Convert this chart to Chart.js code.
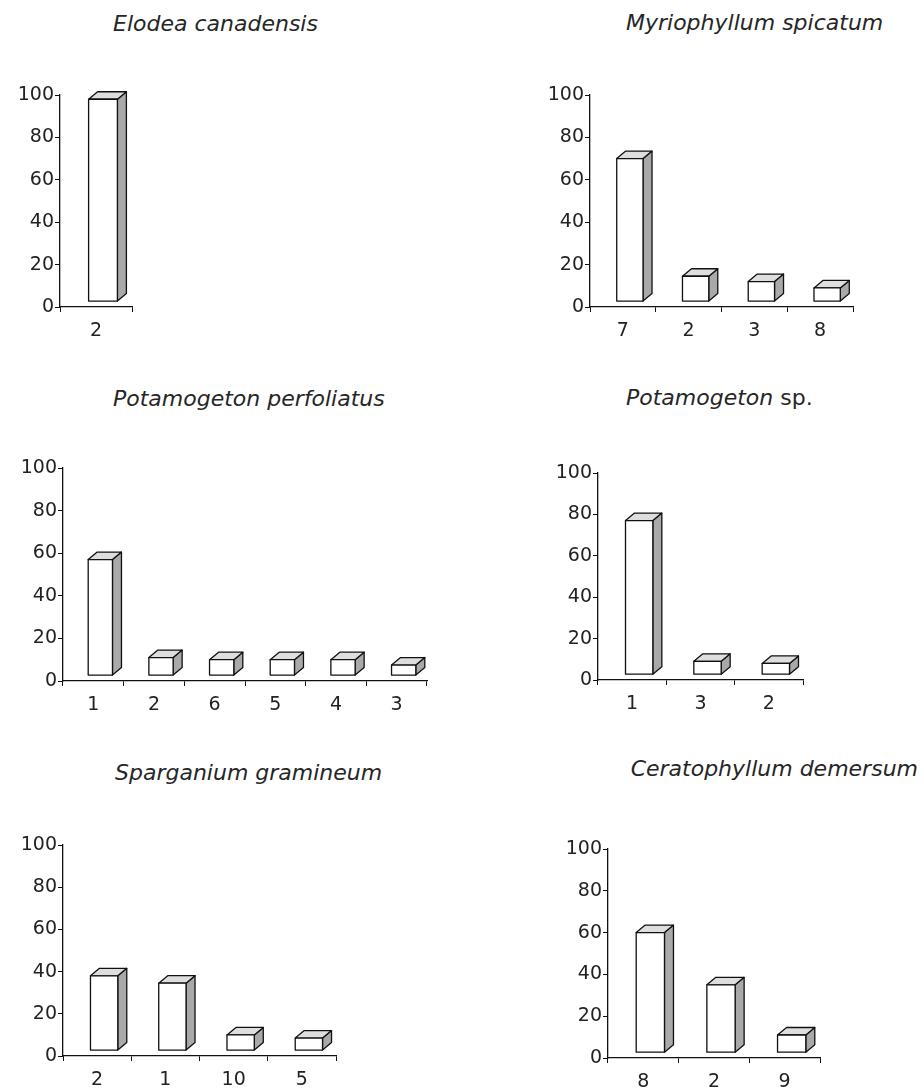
<!DOCTYPE html>
<html>
<head>
<meta charset="utf-8">
<script src="https://cdn.jsdelivr.net/npm/chart.js@4.4.1/dist/chart.umd.min.js"></script>
<style>
  body { margin: 0; background: #fff; width: 924px; height: 1092px; position: relative; overflow: hidden; }
  canvas { position: absolute; }
  .title { position: absolute; font: italic 22px "DejaVu Sans", sans-serif; color: #262626; white-space: nowrap; line-height: 22px; }
  .title span { font-style: normal; }
</style>
</head>
<body>
<div class="title" style="left:113px;top:13px">Elodea canadensis</div>
<div class="title" style="left:626px;top:12px">Myriophyllum spicatum</div>
<div class="title" style="left:113px;top:388px">Potamogeton perfoliatus</div>
<div class="title" style="left:626px;top:387px">Potamogeton <span>sp.</span></div>
<div class="title" style="left:115px;top:762px">Sparganium gramineum</div>
<div class="title" style="right:6px;top:758px">Ceratophyllum demersum</div>

<canvas id="c1"></canvas>
<canvas id="c2"></canvas>
<canvas id="c3"></canvas>
<canvas id="c4"></canvas>
<canvas id="c5"></canvas>
<canvas id="c6"></canvas>

<script>
// data (percent)
const yTicks = [0, 20, 40, 60, 80, 100];

const elodeaLabels = ["2"];
const elodeaValues = [98];

const myriophyllumLabels = ["7", "2", "3", "8"];
const myriophyllumValues = [70, 14.5, 12, 9];

const perfoliatusLabels = ["1", "2", "6", "5", "4", "3"];
const perfoliatusValues = [57, 11, 10, 10, 10, 7.5];

const potamogetonLabels = ["1", "3", "2"];
const potamogetonValues = [77, 9, 8];

const sparganiumLabels = ["2", "1", "10", "5"];
const sparganiumValues = [38, 34.5, 10, 8.5];

const ceratophyllumLabels = ["8", "2", "9"];
const ceratophyllumValues = [60, 35, 11];

// panel placement: y axis x, pixel of 100, pixel of 0, right end of x axis
const panels = [
  { id: "c1", labels: elodeaLabels, values: elodeaValues, axisX: 60, top: 95, bottom: 307, right: 132 },
  { id: "c2", labels: myriophyllumLabels, values: myriophyllumValues, axisX: 590, top: 95, bottom: 307, right: 853 },
  { id: "c3", labels: perfoliatusLabels, values: perfoliatusValues, axisX: 63, top: 468, bottom: 681, right: 427 },
  { id: "c4", labels: potamogetonLabels, values: potamogetonValues, axisX: 598, top: 473, bottom: 680, right: 803 },
  { id: "c5", labels: sparganiumLabels, values: sparganiumValues, axisX: 63, top: 845, bottom: 1056, right: 336 },
  { id: "c6", labels: ceratophyllumLabels, values: ceratophyllumValues, axisX: 608, top: 849, bottom: 1058, right: 820 }
];

const YW = 60, PT = 20, XH = 45, PR = 20;
const DX = 9, DY = -7.5, SHIFT = 7;

// excel-style 3d columns drawn on top of the (invisible) bar elements
const box3d = {
  id: "box3d",
  afterDatasetsDraw(chart) {
    const ctx = chart.ctx;
    const meta = chart.getDatasetMeta(0);
    ctx.save();
    ctx.lineWidth = 1.3;
    ctx.strokeStyle = "#111";
    ctx.lineJoin = "round";
    for (const el of meta.data) {
      const l = el.x - el.width / 2 + SHIFT;
      const r = l + el.width;
      const t = el.y;
      const b = el.base;
      // side
      ctx.beginPath();
      ctx.moveTo(r, t); ctx.lineTo(r + DX, t + DY); ctx.lineTo(r + DX, b + DY); ctx.lineTo(r, b); ctx.closePath();
      ctx.fillStyle = "#a9a9a9"; ctx.fill(); ctx.stroke();
      // top
      ctx.beginPath();
      ctx.moveTo(l, t); ctx.lineTo(l + DX, t + DY); ctx.lineTo(r + DX, t + DY); ctx.lineTo(r, t); ctx.closePath();
      ctx.fillStyle = "#dedede"; ctx.fill(); ctx.stroke();
      // front
      ctx.beginPath();
      ctx.rect(l, t, r - l, b - t);
      ctx.fillStyle = "#fff"; ctx.fill(); ctx.stroke();
    }
    ctx.restore();
  }
};

for (const p of panels) {
  const canvas = document.getElementById(p.id);
  const w = (p.right - p.axisX) + YW + PR;
  const h = (p.bottom - p.top) + PT + XH;
  canvas.width = w; canvas.height = h;
  canvas.style.left = (p.axisX - YW) + "px";
  canvas.style.top = (p.top - PT) + "px";

  new Chart(canvas, {
    type: "bar",
    data: {
      labels: p.labels,
      datasets: [{ data: p.values, base: 2.8, backgroundColor: "rgba(0,0,0,0)", borderWidth: 0, barPercentage: 0.4, categoryPercentage: 1 }]
    },
    options: {
      responsive: false,
      animation: false,
      devicePixelRatio: 1,
      layout: { padding: { top: PT, right: PR, left: 0, bottom: 0 } },
      plugins: { legend: { display: false }, tooltip: { enabled: false } },
      scales: {
        x: {
          afterFit: (s) => { s.height = XH; },
          grid: { drawOnChartArea: false, drawTicks: true, tickLength: 5, color: "#111", offset: true },
          border: { color: "#111", width: 1.3 },
          ticks: { color: "#222", padding: 8, font: { family: "DejaVu Sans", size: 19 } }
        },
        y: {
          min: 0, max: 100,
          afterFit: (s) => { s.width = YW; },
          afterBuildTicks: (s) => { s.ticks = yTicks.map((v) => ({ value: v })); },
          grid: { drawOnChartArea: false, drawTicks: true, tickLength: 5, color: "#111" },
          border: { color: "#111", width: 1.3 },
          ticks: { color: "#222", padding: 1, font: { family: "DejaVu Sans", size: 19 } }
        }
      }
    },
    plugins: [box3d]
  });
}
</script>
</body>
</html>
